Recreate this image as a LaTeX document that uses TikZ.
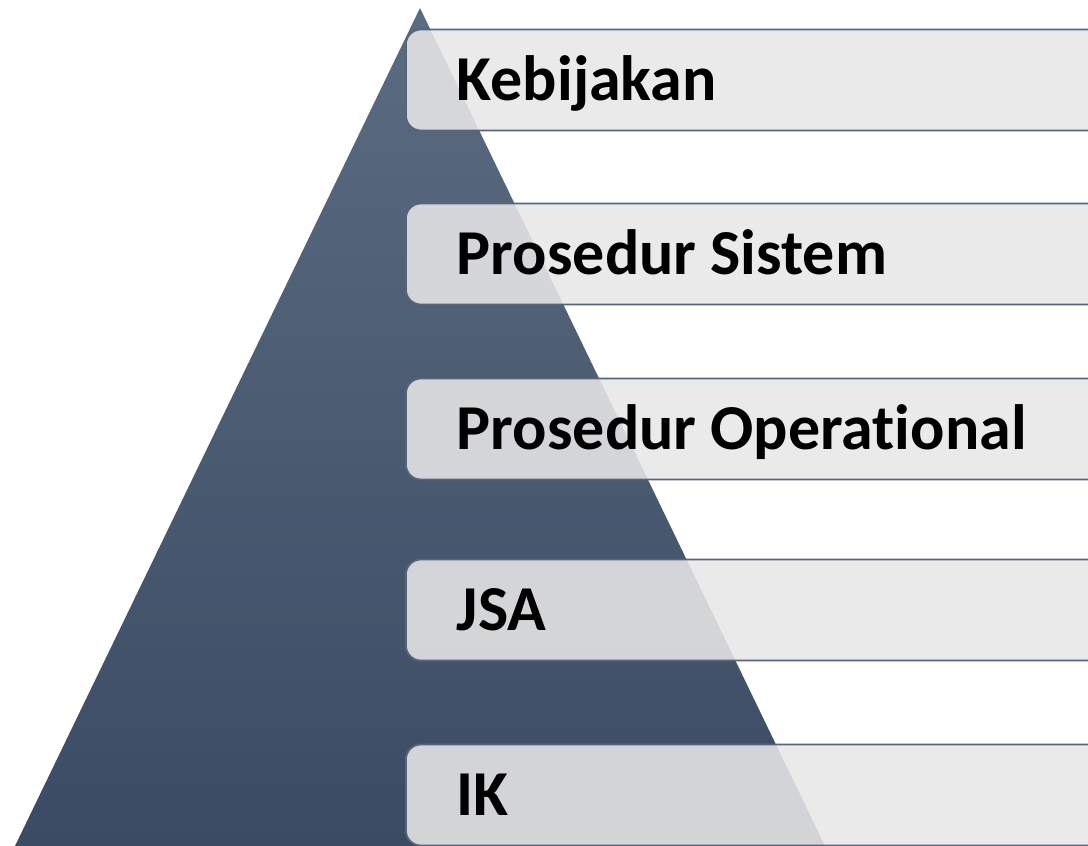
\documentclass[tikz,border=0pt]{standalone}
\usepackage{fontspec}
\setmainfont{Carlito}[Ligatures={NoCommon,NoRequired,NoContextual}]
\usetikzlibrary{positioning}

\definecolor{pyrtop}{HTML}{5B6B81}
\definecolor{pyrbot}{HTML}{3B4B63}
\definecolor{boxfill}{HTML}{E7E7E7}
\definecolor{boxline}{HTML}{56657C}

\begin{document}
\begin{tikzpicture}[
    x=1pt, y=1pt,
    lvl/.style={draw=boxline, line width=1.8pt, rounded corners=15pt, fill=boxfill, fill opacity=0.88, text opacity=1,
                anchor=west, minimum width=720pt, minimum height=101pt, inner xsep=51pt, text width=618pt, align=left,
                font=\bfseries\fontsize{64}{72}\selectfont, execute at begin node={\spaceskip=14pt\relax},
                text height=41pt, text depth=0pt}
]
\useasboundingbox (0,0) rectangle (1088,-846);
\clip (0,0) rectangle (1088,-846);

% pyramid
\coordinate (apex) at (420,-8);
\coordinate (baseL) at (15,-846);
\coordinate (baseR) at (825,-846);
\shade[top color=pyrtop, bottom color=pyrbot] (apex) -- (baseL) -- (baseR) -- cycle;

% levels
\node[lvl] (kebijakan) at (405,-80) {Kebijakan};
\node[lvl] (sistem) at (405,-254) {Prosedur Sistem};
\node[lvl] (operasional) at (405,-429) {Prosedur Operational};
\node[lvl] (jsa) at (405,-610) {JSA};
\node[lvl] (ik) at (405,-795) {IK};
\end{tikzpicture}
\end{document}
